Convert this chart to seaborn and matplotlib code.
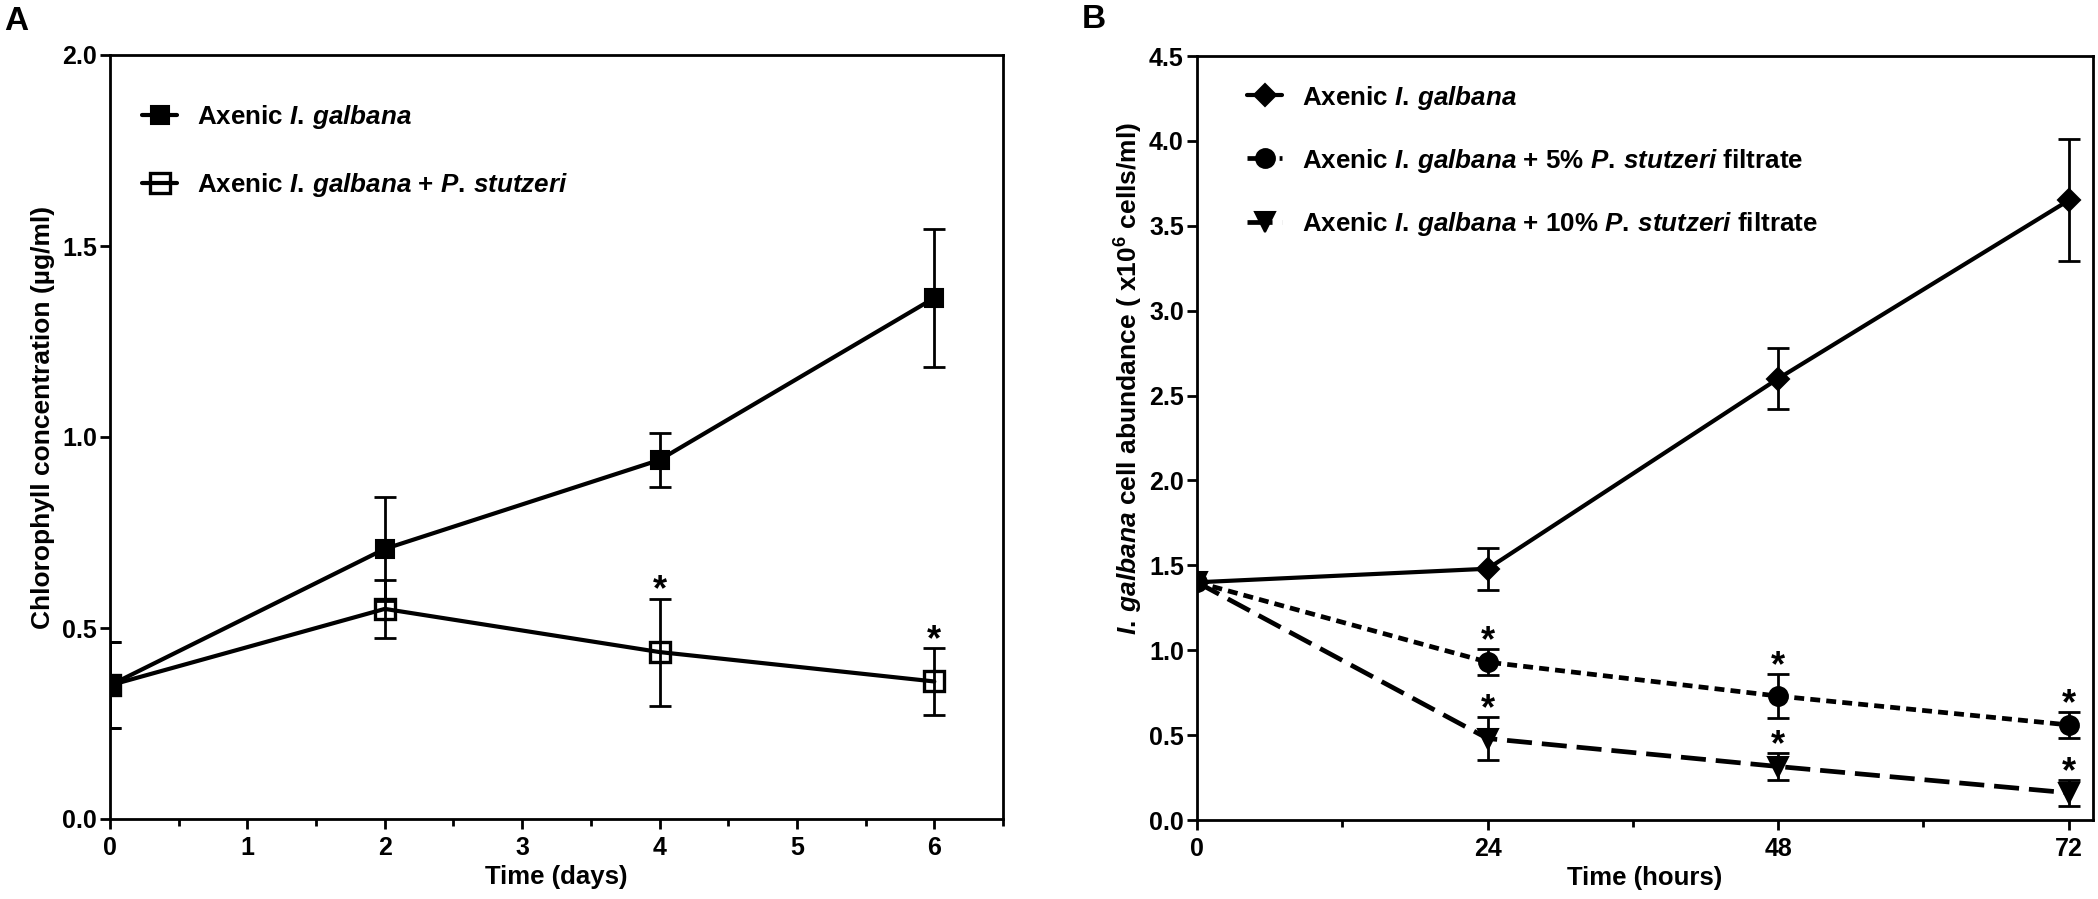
import matplotlib
matplotlib.use("Agg")
import matplotlib.pyplot as plt
import seaborn as sns
from matplotlib.ticker import MultipleLocator, FormatStrFormatter

# ============================================================================
# DATA
# ============================================================================

# Panel A - chlorophyll (ug/ml) over days
days = [0, 2, 4, 6]
chl_axenic = [0.35, 0.707, 0.94, 1.364]
chl_axenic_err = [0.113, 0.136, 0.07, 0.18]
chl_cocult = [0.35, 0.55, 0.437, 0.36]
chl_cocult_err = [0.113, 0.075, 0.14, 0.088]
chl_cocult_sig = [False, False, True, True]

# Panel B - cell abundance (x10^6 cells/ml) over hours
hours = [0, 24, 48, 72]
cells_axenic = [1.40, 1.48, 2.60, 3.65]
cells_axenic_err = [0.0, 0.125, 0.18, 0.36]
cells_5pct = [1.40, 0.93, 0.73, 0.56]
cells_5pct_err = [0.0, 0.077, 0.13, 0.075]
cells_5pct_sig = [False, True, True, True]
cells_10pct = [1.40, 0.48, 0.315, 0.16]
cells_10pct_err = [0.0, 0.127, 0.077, 0.075]
cells_10pct_sig = [False, True, True, True]

IG = r"$\mathit{I.\,galbana}$"
PS = r"$\mathit{P.\,stutzeri}$"
lab_axenic = "Axenic " + IG
lab_cocult = "Axenic " + IG + " + " + PS
lab_5pct = "Axenic " + IG + " + 5% " + PS + " filtrate"
lab_10pct = "Axenic " + IG + " + 10% " + PS + " filtrate"

# ============================================================================
# STYLE
# ============================================================================

sns.set_theme(style="ticks")
plt.rcParams['font.family'] = ['Liberation Sans', 'DejaVu Sans']
plt.rcParams.update({
    'font.weight': 'bold',
    'axes.labelweight': 'bold',
    'mathtext.fontset': 'custom',
    'mathtext.rm': 'Liberation Sans:bold',
    'mathtext.it': 'Liberation Sans:italic:bold',
    'mathtext.bf': 'Liberation Sans:bold',
    'axes.edgecolor': 'black',
    'axes.labelcolor': 'black',
    'text.color': 'black',
    'xtick.color': 'black',
    'ytick.color': 'black',
})

W, H = 2098, 899
fig = plt.figure(figsize=(W / 100, H / 100), dpi=100)
axA = fig.add_axes([110 / W, 1 - 819 / H, 893 / W, 764 / H])
axB = fig.add_axes([1197 / W, 1 - 820 / H, 896 / W, 764 / H])


def style_axis(ax):
    for s in ax.spines.values():
        s.set_visible(True)
        s.set_linewidth(2.0)
        s.set_color('black')
    ax.tick_params(which='major', direction='out', length=7.5, width=2,
                   labelsize=18, top=False, right=False)
    ax.tick_params(which='minor', direction='out', length=5, width=2,
                   top=False, right=False)
    ax.tick_params(axis='y', which='major', pad=2)
    ax.tick_params(axis='x', which='major', pad=5)


def draw_series(ax, x, y, err, marker, ms, label, ls='-', lw=3.0, mfc='black', mew=1.5, z=3):
    ax.errorbar(x, y, yerr=err, fmt='none', ecolor='black', elinewidth=2,
                capsize=8, capthick=2, zorder=2)
    sns.lineplot(x=x, y=y, ax=ax, color='black', linewidth=lw, linestyle=ls,
                 marker=marker, markersize=ms, markerfacecolor=mfc,
                 markeredgecolor='black', markeredgewidth=mew,
                 errorbar=None, label=label, zorder=z)


def add_stars(ax, x, y, err, sig):
    for xi, yi, ei, si in zip(x, y, err, sig):
        if si:
            ax.annotate('*', (xi, yi + ei), xytext=(0, -1.5), textcoords='offset points',
                        ha='center', va='baseline', fontsize=26, fontweight='bold')


# ============================================================================
# PANEL A
# ============================================================================

draw_series(axA, days, chl_cocult, chl_cocult_err, 's', 14, lab_cocult, mfc='none', mew=2.4, z=3)
draw_series(axA, days, chl_axenic, chl_axenic_err, 's', 13, lab_axenic, z=4)
add_stars(axA, days, chl_cocult, chl_cocult_err, chl_cocult_sig)

axA.set_xlim(0, 6.5)
axA.set_ylim(0, 2.0)
axA.set_xticks(range(0, 7))
axA.xaxis.set_minor_locator(MultipleLocator(0.5))
axA.set_yticks([0, 0.5, 1.0, 1.5, 2.0])
axA.yaxis.set_major_formatter(FormatStrFormatter('%.1f'))
style_axis(axA)
axA.set_xlabel('Time (days)', fontsize=18.5, fontweight='bold')
axA.set_ylabel('Chlorophyll concentration (µg/ml)', fontsize=19, fontweight='bold')
axA.xaxis.set_label_coords(0.5, -0.060)
axA.yaxis.set_label_coords(-0.0616, 0.525)

hA, lA = axA.get_legend_handles_labels()
orderA = [lA.index(lab_axenic), lA.index(lab_cocult)]
axA.legend([hA[i] for i in orderA], [lA[i] for i in orderA], loc='upper left',
           bbox_to_anchor=(0.036, 0.937), frameon=False, fontsize=18.7,
           handlelength=1.35, handletextpad=0.75, labelspacing=1.55,
           borderpad=0, borderaxespad=0)

# ============================================================================
# PANEL B
# ============================================================================

draw_series(axB, hours, cells_10pct, cells_10pct_err, 'v', 14, lab_10pct,
            ls=(0, (5.3, 2.1)), lw=3.4, z=3)
draw_series(axB, hours, cells_5pct, cells_5pct_err, 'o', 13.5, lab_5pct,
            ls=(0, (2.1, 1.3)), lw=3.4, z=3)
draw_series(axB, hours, cells_axenic, cells_axenic_err, 'D', 11, lab_axenic, z=4)
add_stars(axB, hours, cells_5pct, cells_5pct_err, cells_5pct_sig)
add_stars(axB, hours, cells_10pct, cells_10pct_err, cells_10pct_sig)

axB.set_xlim(0, 74)
axB.set_ylim(0, 4.5)
axB.set_xticks([0, 24, 48, 72])
axB.xaxis.set_minor_locator(MultipleLocator(12))
axB.set_yticks([0, 0.5, 1.0, 1.5, 2.0, 2.5, 3.0, 3.5, 4.0, 4.5])
axB.yaxis.set_major_formatter(FormatStrFormatter('%.1f'))
style_axis(axB)
axB.set_xlabel('Time (hours)', fontsize=18.5, fontweight='bold')
axB.set_ylabel(IG + r" cell abundance ( x10$^{6}$ cells/ml)",
               fontsize=19, fontweight='bold')
axB.xaxis.set_label_coords(0.5, -0.060)
axB.yaxis.set_label_coords(-0.058, 0.578)

hB, lB = axB.get_legend_handles_labels()
orderB = [lB.index(lab_axenic), lB.index(lab_5pct), lB.index(lab_10pct)]
axB.legend([hB[i] for i in orderB], [lB[i] for i in orderB], loc='upper left',
           bbox_to_anchor=(0.056, 0.964), frameon=False, fontsize=18.7,
           handlelength=1.35, handletextpad=0.75, labelspacing=1.35,
           borderpad=0, borderaxespad=0)

# panel letters
fig.text(4 / W, 1 - 6 / H, 'A', fontsize=24, fontweight='bold', ha='left', va='top')
fig.text(1082 / W, 1 - 4 / H, 'B', fontsize=24, fontweight='bold', ha='left', va='top')

fig.savefig('out.png', dpi=100)
